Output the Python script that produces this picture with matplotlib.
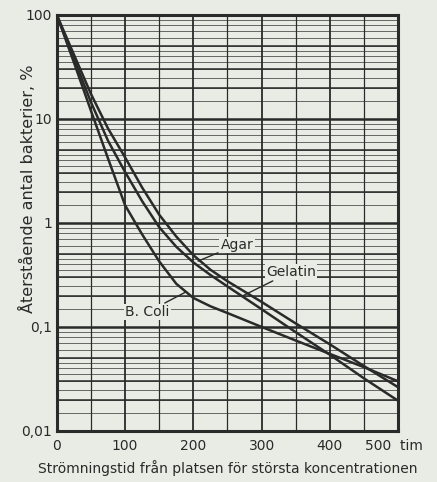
import matplotlib
matplotlib.use('Agg')
from matplotlib import pyplot as plt
from matplotlib import transforms as mtransforms
from matplotlib.ticker import FixedLocator, NullFormatter

# Strömningstid (tim) och återstående andel bakterier (%)
time_h = [0, 25, 50, 75, 100, 125, 150, 175, 200, 225, 250, 300, 350, 400, 450, 500]
agar = [100, 41.7, 17.4, 8.1, 4.27, 2.19, 1.20, 0.74, 0.49, 0.355, 0.275,
        0.174, 0.108, 0.068, 0.042, 0.0263]
gelatin = [100, 38, 14.5, 6.17, 3.09, 1.62, 0.91, 0.59, 0.417, 0.316, 0.245,
           0.148, 0.089, 0.054, 0.032, 0.0195]
b_coli = [100, 35, 12, 4.17, 1.48, 0.776, 0.427, 0.26, 0.19, 0.158, 0.136,
          0.10, 0.074, 0.055, 0.041, 0.030]

x_ticks = [0, 100, 200, 300, 400, 500]
x_tick_labels = ['0', '100', '200', '300', '400', '500  tim']
y_ticks = [0.01, 0.1, 1, 10, 100]
y_tick_labels = ['0,01', '0,1', '1', '10', '100']

bg = '#e9ece4'
ink = '#2a2a2a'

plt.rcParams['font.family'] = ['DejaVu Sans']

fig = plt.figure(figsize=(4.37, 4.82), dpi=100, facecolor=bg)
ax = fig.add_axes([0.130, 0.106, 0.781, 0.863], facecolor=bg)
ax.set_yscale('log')
ax.set_xlim(0, 500)
ax.set_ylim(0.01, 100)

# rutnät
ax.xaxis.set_major_locator(FixedLocator(x_ticks))
ax.xaxis.set_minor_locator(FixedLocator([50, 150, 250, 350, 450]))
ax.yaxis.set_major_locator(FixedLocator(y_ticks))
minor_y = [m * d for d in (0.01, 0.1, 1, 10)
           for m in (1.5, 2, 2.5, 3, 3.5, 4, 4.5, 5, 6, 7, 8, 9)]
ax.yaxis.set_minor_locator(FixedLocator(minor_y))
ax.yaxis.set_minor_formatter(NullFormatter())
ax.grid(which='major', axis='y', color=ink, lw=1.8)
ax.grid(which='major', axis='x', color=ink, lw=1.3)
ax.grid(which='minor', axis='y', color=ink, lw=0.6, alpha=0.8)
ax.grid(which='minor', axis='x', color=ink, lw=0.9)
for d in (0.01, 0.1, 1, 10):
    for m in (2, 3, 5):
        ax.axhline(m * d, color=ink, lw=1.1, zorder=1)

for s in ax.spines.values():
    s.set_color(ink)
    s.set_linewidth(2.2)

ax.tick_params(which='both', length=0, colors=ink, labelsize=10)
ax.tick_params(axis='x', pad=6)
ax.set_xticklabels(x_tick_labels)
ax.set_yticklabels(y_tick_labels)
last = ax.get_xticklabels()[-1]
last.set_horizontalalignment('left')
last.set_transform(last.get_transform() +
                   mtransforms.ScaledTranslation(-0.33, 0, fig.dpi_scale_trans))

# kurvor
for vals in (agar, gelatin, b_coli):
    ax.plot(time_h, vals, color=ink, lw=1.8, zorder=3,
            solid_joinstyle='round')

arrow = dict(arrowstyle='-', color=ink, lw=1.0, shrinkA=1, shrinkB=0)
box = dict(boxstyle='square,pad=0.1', fc=bg, ec='none')
ax.annotate('Agar', xy=(207, 0.43), xytext=(264, 0.614), fontsize=10,
            color=ink, ha='center', va='center', arrowprops=arrow,
            bbox=box, zorder=4)
ax.annotate('Gelatin', xy=(273, 0.2), xytext=(343, 0.338), fontsize=10,
            color=ink, ha='center', va='center', arrowprops=arrow,
            bbox=box, zorder=4)
ax.annotate('B. Coli', xy=(188, 0.215), xytext=(133, 0.139), fontsize=10,
            color=ink, ha='center', va='center', arrowprops=arrow,
            bbox=box, zorder=4)

ax.set_xlabel('Strömningstid från platsen för största koncentrationen',
              fontsize=10, color=ink, labelpad=5)
ax.set_ylabel('Återstående antal bakterier, %', fontsize=11.5, color=ink)
ax.yaxis.set_label_coords(-0.062, 0.582)

fig.savefig('out.png', dpi=100, facecolor=bg)
